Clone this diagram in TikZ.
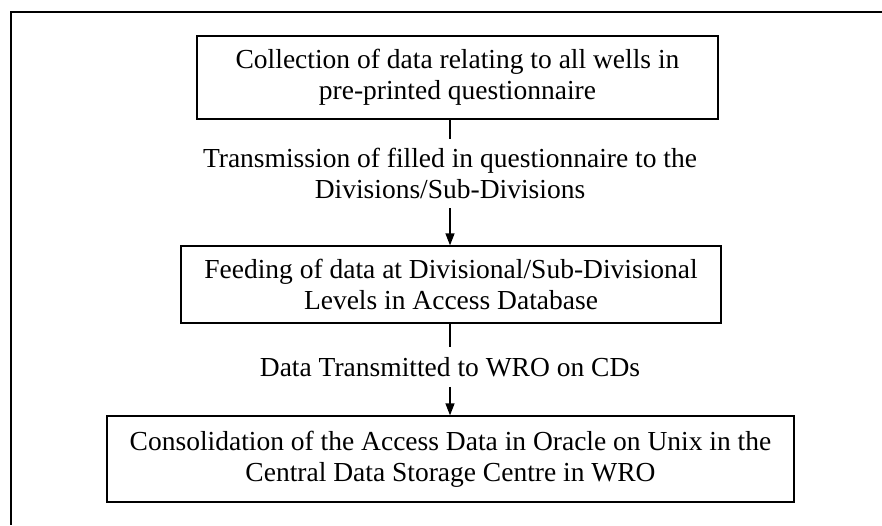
\documentclass[tikz,border=0pt]{standalone}
\usepackage{fontspec}
\setmainfont{Liberation Serif}
\usetikzlibrary{arrows.meta}

\begin{document}
\begin{tikzpicture}[x=1pt,y=-1pt,
            stepbox/.style={draw, line width=1.3pt, align=center, inner sep=0pt,
                font=\fontsize{27.5}{31}\selectfont},
            steplabel/.style={align=center, inner xsep=0pt,
                font=\fontsize{27.5}{31}\selectfont},
            link/.style={line width=1.3pt}]
            \useasboundingbox (0,0) rectangle (882,525);
            \draw[line width=1.5pt] (882,12) -- (11,12) -- (11,525);

            \node (collect) at (457.5,77.5) [stepbox, minimum width=521pt, minimum height=83pt]
                {Collection of data relating to all wells in\\pre-printed questionnaire};
            \node (feed) at (451,284.5) [stepbox, minimum width=540pt, minimum height=77pt]
                {Feeding of data at Divisional/Sub-Divisional\\Levels in Access Database};
            \node (consol) at (450.5,459) [stepbox, minimum width=687pt, minimum height=86pt]
                {Consolidation of the Access Data in Oracle on Unix in the\\Central Data Storage Centre in WRO};

            \node (transmit) at (450,173.5) [steplabel, inner ysep=9pt]
                {Transmission of filled in questionnaire to the\\Divisions/Sub-Divisions};
            \node (oncd) at (450,367) [steplabel, inner ysep=10pt]
                {Data Transmitted to WRO on CDs};

            \draw[link] (collect.south -| transmit.north) -- (transmit.north);
            \draw[link, -{Triangle[length=12pt,width=9pt]}] (transmit.south) -- (transmit.south |- feed.north);
            \draw[link] (feed.south -| oncd.north) -- (oncd.north);
            \draw[link, -{Triangle[length=12pt,width=9pt]}] (oncd.south) -- (oncd.south |- consol.north);
        \end{tikzpicture}
\end{document}
